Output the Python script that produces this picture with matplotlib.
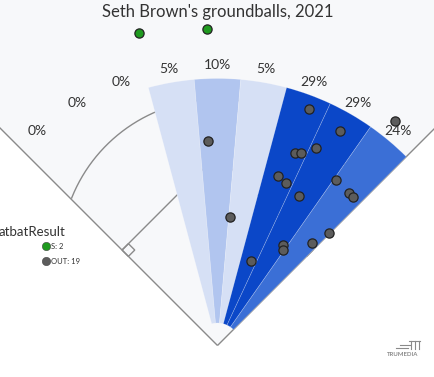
import numpy as np
import matplotlib.pyplot as plt
from matplotlib.patches import Wedge, Polygon
from matplotlib.lines import Line2D

plt.rcParams["font.family"] = ["Lato", "DejaVu Sans"]

TITLE = "Seth Brown's groundballs, 2021"

# spray zones in degrees from straightaway center (negative = left field)
zone_edges = [-45, -35, -25, -15, -5, 5, 15, 25, 35, 45]
zone_labels = ["0%", "0%", "0%", "5%", "10%", "5%", "29%", "29%", "24%"]
zone_colors = [None, None, None, "#d6e0f5", "#b1c5ef", "#d6e0f5", "#0b47c8", "#0b47c8", "#3b6fd6"]

# groundballs: spray angle (deg), distance (ft), result
ball_angle = [-2.6, 5.6, 21.8, 21.2, 29.7, 22.0, 23.5, 26.6, 19.7, 22.8,
              35.6, 28.5, 40.8, 42.3, 33.1, 34.3, 42.7, 44.7, 38.4, -14.1, -1.9]
ball_dist = [136.7, 85.9, 60.7, 169.1, 164.7, 138.7, 139.8, 147.0, 119.7, 117.3,
             135.9, 113.6, 134.0, 134.0, 79.7, 77.1, 92.9, 105.3, 190.9, 214.6, 211.1]
ball_result = ["OUT"] * 19 + ["S"] * 2

result_names = ["S", "OUT"]
result_colors = {"S": "#1f9a1f", "OUT": "#5c5c5c"}

# field geometry (ft)
WEDGE_IN, WEDGE_OUT, LABEL_R = 15, 178, 187
BASE = 90
MOUND, ARC_R = 59.5, 104.7

fig = plt.figure(figsize=(4.35, 3.77), dpi=100)
ax = fig.add_axes([0, 0, 1, 1])
ax.set_xlim(-145, 145)
ax.set_ylim(-21, 230.33)
ax.set_aspect("equal")
ax.axis("off")

# fair territory
ax.add_patch(Polygon([(0, 0), (-300, 300), (300, 300)], closed=True,
                     facecolor="#f7f8fa", edgecolor="none", zorder=0))
line_kw = dict(color="#8a8a8a", lw=1, zorder=1, solid_capstyle="butt")
ax.plot([0, -300], [0, 300], **line_kw)
ax.plot([0, 300], [0, 300], **line_kw)

# infield arc, only the part in fair territory
t = np.radians(np.linspace(-20, 200, 600))
arc_x = ARC_R * np.cos(t)
arc_y = MOUND + ARC_R * np.sin(t)
fair = arc_y >= np.abs(arc_x)
ax.plot(arc_x[fair], arc_y[fair], **line_kw)

# base paths and bases
h = BASE / np.sqrt(2)
ax.plot([-h, 0, h], [h, 2 * h, h], **line_kw)
s = 6 / np.sqrt(2)
for sx in (-1, 1):
    p = np.array([sx * h, h])
    u = np.array([-sx * s, -s])   # toward home
    v = np.array([-sx * s, s])    # toward second
    ax.add_patch(Polygon([p, p + u, p + u + v, p + v], closed=True,
                         facecolor="none", edgecolor="#8a8a8a", lw=1, zorder=1))

# zone wedges and labels
for i, lab in enumerate(zone_labels):
    a0, a1 = zone_edges[i], zone_edges[i + 1]
    if zone_colors[i] is not None:
        ax.add_patch(Wedge((0, 0), WEDGE_OUT, 90 - a1, 90 - a0, width=WEDGE_OUT - WEDGE_IN,
                           facecolor=zone_colors[i], edgecolor=(1, 1, 1, 0.25), lw=0.5, zorder=2))
    mid = np.radians((a0 + a1) / 2)
    ax.text(LABEL_R * np.sin(mid), LABEL_R * np.cos(mid), lab, ha="center", va="center",
            fontsize=10, color="#333333", zorder=4)

# batted balls
ang = np.radians(ball_angle)
bx = np.array(ball_dist) * np.sin(ang)
by = np.array(ball_dist) * np.cos(ang)
for res in result_names:
    m = np.array([r == res for r in ball_result])
    ax.scatter(bx[m], by[m], s=44, color=result_colors[res], edgecolor="#222222",
               linewidth=0.9, zorder=5, clip_on=False)

# title
fig.text(0.5, 1 - 12 / 377, TITLE, ha="center", va="center", fontsize=12, color="#333333")

# legend
fig.text(66 / 435, 1 - 232 / 377, "atbatResult", ha="right", va="center", fontsize=9.5, color="#333333")
counts = {r: ball_result.count(r) for r in result_names}
for k, res in enumerate(result_names):
    yy = 1 - (246 + 15 * k) / 377
    fig.add_artist(Line2D([46 / 435], [yy], marker="o", markersize=6, color=result_colors[res],
                          markeredgecolor="#444444", markeredgewidth=0.4, linestyle="none"))
    fig.text(51 / 435, yy, f"{res}: {counts[res]}", ha="left", va="center", fontsize=5.5, color="#333333")

# watermark
fig.text(403 / 435, 1 - 355 / 377, "TRUMEDIA", ha="center", va="center", fontsize=4.3,
         color="#8a8a8a", fontweight="bold")
for (x0, x1, y0) in [(400, 410, 345), (396, 408, 348)]:
    fig.add_artist(Line2D([x0 / 435, x1 / 435], [1 - y0 / 377] * 2, color="#8a8a8a", lw=0.8))
for x0 in (411, 415, 419):
    fig.add_artist(Line2D([x0 / 435] * 2, [1 - 341 / 377, 1 - 349 / 377], color="#8a8a8a", lw=0.8))
fig.add_artist(Line2D([409 / 435, 420 / 435], [1 - 341 / 377] * 2, color="#8a8a8a", lw=0.8))

fig.savefig("out.png", dpi=100)
